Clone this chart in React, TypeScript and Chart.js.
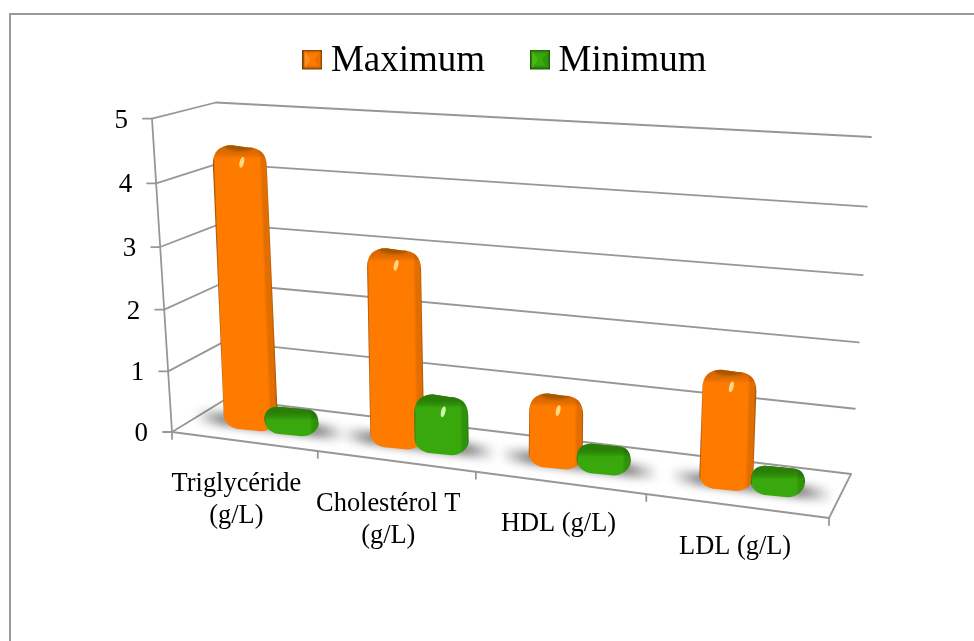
import React, { useEffect, useRef } from "react";
import { Chart, registerables } from "chart.js";

Chart.register(...registerables);

// Chart values
const categories: (string | string[])[] = [
  ["Triglycéride", "(g/L)"],
  ["Cholestérol T", "(g/L)"],
  "HDL (g/L)",
  "LDL (g/L)",
];
const maximumValues = [4.35, 2.9, 0.89, 1.52];
const minimumValues = [0.18, 0.67, 0.2, 0.19];
const yTickStep = 1;
const yMax = 5;

const FONT = "'Liberation Serif', 'Times New Roman', serif";
const LINE = "#979797";

type Pt = { x: number; y: number };
type Palette = {
  base: string;
  band: string;
  edge: string;
  cap: string;
  glow: string;
  topShade: string;
  iconLight: string;
  iconDark: string;
  iconBorder: string;
};

const ORANGE: Palette = {
  base: "#FF7B00",
  band: "#E26D00",
  edge: "#A5560A",
  cap: "#A85600",
  glow: "rgba(255,222,140,0.95)",
  topShade: "rgba(170,85,0,0.4)",
  iconLight: "#FF9020",
  iconDark: "#EA7000",
  iconBorder: "#7A3C00",
};
const GREEN: Palette = {
  base: "#38A80C",
  band: "#2F930A",
  edge: "#246E08",
  cap: "#2C7E08",
  glow: "rgba(215,255,175,0.95)",
  topShade: "rgba(30,100,5,0.6)",
  iconLight: "#46BC14",
  iconDark: "#30960A",
  iconBorder: "#1D5A05",
};

// Corners of the 3D box: back wall, front plane (z = 0 front, 1 back)
const backBottomLeft: Pt = { x: 226, y: 399 };
const backBottomRight: Pt = { x: 851, y: 474 };
const backTopLeft: Pt = { x: 216, y: 102.5 };
const backTopRight: Pt = { x: 871, y: 137 };
const frontBottomLeft: Pt = { x: 172, y: 432 };
const frontBottomRight: Pt = { x: 829, y: 518 };
const frontTopLeft: Pt = { x: 152, y: 118.7 };
const frontTopRight: Pt = { x: 841, y: 143 };

const BAR_DEPTH = 0.5;
const BAR_SHIFT = 2.5;

const mix = (a: Pt, b: Pt, k: number): Pt => ({
  x: a.x + (b.x - a.x) * k,
  y: a.y + (b.y - a.y) * k,
});

// Perspective foreshortening along the width and the height of the box
const warpX = (t: number) => t - 0.15 * t * (1 - t);
const warpY = (t: number) => t - 0.04 * t * (1 - t);

function project(t: number, v: number, z: number): Pt {
  const u = warpX(t);
  const w = warpY(v);
  const back = mix(mix(backBottomLeft, backBottomRight, u), mix(backTopLeft, backTopRight, u), w);
  const front = mix(mix(frontBottomLeft, frontBottomRight, u), mix(frontTopLeft, frontTopRight, u), w);
  return mix(front, back, z);
}

function segment(ctx: CanvasRenderingContext2D, a: Pt, b: Pt) {
  ctx.beginPath();
  ctx.moveTo(a.x, a.y);
  ctx.lineTo(b.x, b.y);
  ctx.stroke();
}

// Bevelled legend swatch; the extra canvas rows lift it to the text's optical centre
function makeIcon(p: Palette): HTMLCanvasElement {
  const c = document.createElement("canvas");
  c.width = 20;
  c.height = 24;
  const g = c.getContext("2d")!;
  g.fillStyle = p.base;
  g.fillRect(0, 0, 20, 20);
  const tri = (pts: number[][], col: string) => {
    g.fillStyle = col;
    g.beginPath();
    pts.forEach(([x, y], i) => (i ? g.lineTo(x, y) : g.moveTo(x, y)));
    g.closePath();
    g.fill();
  };
  tri([[1, 1], [19, 1], [10, 10]], p.iconDark);
  tri([[1, 19], [19, 19], [10, 10]], p.iconDark);
  tri([[1, 1], [1, 19], [10, 10]], p.iconLight);
  tri([[19, 1], [19, 19], [10, 10]], p.iconDark);
  g.fillStyle = p.base;
  g.beginPath();
  g.moveTo(4, 4);
  g.lineTo(16, 4);
  g.lineTo(12, 10);
  g.lineTo(16, 16);
  g.lineTo(4, 16);
  g.lineTo(8, 10);
  g.closePath();
  g.fill();
  g.strokeStyle = p.iconBorder;
  g.lineWidth = 1.5;
  g.strokeRect(0.75, 0.75, 18.5, 18.5);
  return c;
}

// Rounded column seen from slightly above: body, side shading, lid and gloss
function drawColumn(
  ctx: CanvasRenderingContext2D,
  top: Pt,
  bottom: Pt,
  halfWidth: number,
  slope: number,
  p: Palette
) {
  const capLift = 8;
  const footDrop = 8.5;
  const tY = top.y - capLift;
  const bY = bottom.y + footDrop;
  const height = bY - tY;
  const rT = Math.min(19, height * 0.48);
  const rB = Math.min(14, height * 0.48);
  const rBx = halfWidth * 0.62;
  const tiltT = halfWidth * slope * 0.35;
  const tiltB = halfWidth * slope * 0.3;
  const xlT = top.x - halfWidth;
  const xrT = top.x + halfWidth;
  const xlB = bottom.x - halfWidth;
  const xrB = bottom.x + halfWidth;
  const ylT = tY - tiltT;
  const yrT = tY + tiltT;
  const ylB = bY - tiltB;
  const yrB = bY + tiltB;

  ctx.save();
  ctx.beginPath();
  ctx.moveTo(xlT, ylT + rT);
  ctx.bezierCurveTo(xlT, ylT + rT * 0.35, xlT + rT * 0.35, ylT, xlT + rT, ylT);
  ctx.lineTo(xrT - rT, yrT);
  ctx.bezierCurveTo(xrT - rT * 0.35, yrT, xrT, yrT + rT * 0.35, xrT, yrT + rT);
  ctx.lineTo(xrB, yrB - rB);
  ctx.bezierCurveTo(xrB, yrB - rB * 0.4, xrB - rBx * 0.55, yrB, xrB - rBx, yrB);
  ctx.lineTo(xlB + rBx, ylB);
  ctx.bezierCurveTo(xlB + rBx * 0.55, ylB, xlB, ylB - rB * 0.4, xlB, ylB - rB);
  ctx.closePath();
  ctx.clip();

  // Side shading runs across the column, square to its leaning axis
  const ax = top.x - bottom.x;
  const ay = tY - bY;
  const len = Math.hypot(ax, ay) || 1;
  const nx = Math.abs(ay / len);
  const ny = ax / len;
  const midX = (top.x + bottom.x) / 2;
  const midY = (tY + bY) / 2;
  const grad = ctx.createLinearGradient(
    midX - nx * halfWidth,
    midY - ny * halfWidth,
    midX + nx * halfWidth,
    midY + ny * halfWidth
  );
  grad.addColorStop(0, p.edge);
  grad.addColorStop(0.025, p.base);
  grad.addColorStop(0.84, p.base);
  grad.addColorStop(0.9, p.band);
  grad.addColorStop(0.97, p.band);
  grad.addColorStop(1, p.edge);
  ctx.fillStyle = grad;
  ctx.fillRect(Math.min(xlT, xlB) - 4, tY - 12, Math.abs(xrT - xlB) + halfWidth * 2 + 8, height + 24);

  // Bevel shade at the top edge
  const shade = ctx.createLinearGradient(0, tY, 0, tY + 12);
  shade.addColorStop(0, p.topShade);
  shade.addColorStop(1, "rgba(0,0,0,0)");
  ctx.fillStyle = shade;
  ctx.fillRect(xlT - 4, tY - 12, halfWidth * 2 + 8, 30);

  // Lid of the column
  ctx.save();
  ctx.filter = "blur(1px)";
  ctx.fillStyle = p.cap;
  ctx.beginPath();
  ctx.ellipse(top.x - 1, tY, halfWidth * 0.55, 4.5, Math.atan(slope) * 0.35, 0, Math.PI * 2);
  ctx.fill();
  ctx.restore();

  // Gloss spot on the taller columns
  if (height > 50) {
    ctx.save();
    ctx.filter = "blur(0.7px)";
    ctx.fillStyle = p.glow;
    ctx.beginPath();
    ctx.ellipse(top.x + 2, tY + 16, 2.2, 5.5, 0.25, 0, Math.PI * 2);
    ctx.fill();
    ctx.restore();
  }
  ctx.restore();
}

const box3dPlugin = {
  id: "box3d",
  beforeDraw(chart: any) {
    const { ctx, canvas } = chart;
    // Outer chart frame
    ctx.save();
    ctx.strokeStyle = "#9a9a9a";
    ctx.lineWidth = 2;
    ctx.beginPath();
    ctx.moveTo(10, canvas.height);
    ctx.lineTo(10, 14);
    ctx.lineTo(canvas.width, 14);
    ctx.stroke();
    ctx.restore();
  },
  beforeDatasetsDraw(chart: any) {
    const { ctx, chartArea: area, scales } = chart;
    const yScale = scales.y;
    const xScale = scales.x;
    const toV = (py: number) => (area.bottom - py) / area.height;
    const toT = (px: number) => (px - area.left) / area.width;

    ctx.save();
    ctx.lineCap = "round";
    ctx.strokeStyle = LINE;
    ctx.lineWidth = 1.8;

    // Horizontal grid on the side and back walls, value axis and its ticks
    yScale.ticks.forEach((tick: any) => {
      const v = toV(yScale.getPixelForValue(tick.value));
      const a = project(0, v, 0);
      const b = project(0, v, 1);
      const c = project(1, v, 1);
      segment(ctx, a, b);
      segment(ctx, b, c);
      segment(ctx, { x: a.x - 9, y: a.y }, a);
      ctx.save();
      ctx.fillStyle = "#000";
      ctx.font = `27px ${FONT}`;
      ctx.textAlign = "right";
      ctx.textBaseline = "middle";
      ctx.fillText(tick.label, a.x - 24, a.y + 2);
      ctx.restore();
    });
    segment(ctx, project(0, 0, 0), project(0, 1, 0));

    // Floor outline and category ticks
    segment(ctx, project(0, 0, 0), project(1, 0, 0));
    segment(ctx, project(1, 0, 0), project(1, 0, 1));
    const nCats = xScale.getLabels().length;
    for (let i = 0; i <= nCats; i++) {
      const p = project(i / nCats, 0, 0);
      segment(ctx, p, { x: p.x, y: p.y + 7 });
    }

    // Category labels below the front edge
    ctx.fillStyle = "#000";
    ctx.font = `26.4px ${FONT}`;
    ctx.textAlign = "center";
    ctx.textBaseline = "middle";
    xScale.getLabels().forEach((label: string | string[], i: number) => {
      const lines = Array.isArray(label) ? label : [label];
      const p = project(toT(xScale.getPixelForTick(i)), 0, 0);
      const multi = lines.length > 1;
      lines.forEach((line, k) => {
        ctx.fillText(line, p.x + (multi ? -7 : -1), p.y + (multi ? 43 : 41.5) + k * 31.5);
      });
    });

    // Columns, placed from the bar elements the chart computed
    const metas = chart.getSortedVisibleDatasetMetas();
    const palettes = [ORANGE, GREEN];
    const planeL = project(0, 0, BAR_DEPTH);
    const planeR = project(1, 0, BAR_DEPTH);
    const planeSpan = planeR.x - planeL.x;
    const slope = (planeR.y - planeL.y) / planeSpan;

    // Soft floor shadows, one per category group
    for (let i = 0; i < nCats; i++) {
      const first = metas[0].data[i];
      const last = metas[metas.length - 1].data[i];
      const hw = ((first.width / area.width) * planeSpan) / 2;
      const l = project(toT(first.x), 0, BAR_DEPTH);
      const r = project(toT(last.x), 0, BAR_DEPTH);
      const x0 = l.x - hw - 26;
      const x1 = r.x + hw + 30;
      const y0 = l.y - (l.x - x0) * slope;
      const y1 = r.y + (x1 - r.x) * slope;
      const fade = ctx.createLinearGradient(x0, 0, x1, 0);
      fade.addColorStop(0, "rgba(0,0,0,0)");
      fade.addColorStop(0.18, "rgba(0,0,0,0.46)");
      fade.addColorStop(0.82, "rgba(0,0,0,0.46)");
      fade.addColorStop(1, "rgba(0,0,0,0)");
      ctx.save();
      ctx.filter = "blur(4px)";
      ctx.fillStyle = fade;
      ctx.beginPath();
      ctx.moveTo(x0, y0 - 6);
      ctx.lineTo(x1, y1 - 6);
      ctx.lineTo(x1, y1 + 7);
      ctx.lineTo(x0, y0 + 7);
      ctx.closePath();
      ctx.fill();
      ctx.restore();
    }

    metas.forEach((meta: any, ds: number) => {
      meta.data.forEach((bar: any) => {
        const t = toT(bar.x);
        const top = project(t, toV(bar.y), BAR_DEPTH);
        const bottom = project(t, toV(bar.base), BAR_DEPTH);
        top.x += BAR_SHIFT;
        bottom.x += BAR_SHIFT;
        const hw = ((bar.width / area.width) * planeSpan) / 2;
        drawColumn(ctx, top, bottom, hw, slope, palettes[ds]);
      });
    });
    ctx.restore();
    return false;
  },
};

export default function App() {
  const ref = useRef<HTMLCanvasElement>(null);

  useEffect(() => {
    const icons = [makeIcon(ORANGE), makeIcon(GREEN)];
    const chart = new Chart(ref.current!, {
      type: "bar",
      data: {
        labels: categories,
        datasets: [
          { label: "Maximum", data: maximumValues, backgroundColor: ORANGE.base },
          { label: "Minimum", data: minimumValues, backgroundColor: GREEN.base },
        ],
      },
      options: {
        responsive: false,
        animation: false,
        events: [],
        layout: { padding: { top: -12, left: 45, right: 0, bottom: 0 } },
        datasets: { bar: { categoryPercentage: 0.576, barPercentage: 1.17 } },
        scales: {
          x: { display: false },
          y: { display: false, min: 0, max: yMax, ticks: { stepSize: yTickStep } },
        },
        plugins: {
          tooltip: { enabled: false },
          legend: {
            position: "top",
            labels: {
              usePointStyle: true,
              boxWidth: 0.01,
              padding: 55,
              color: "#000",
              font: { family: FONT, size: 37 },
              generateLabels(c: any) {
                return Chart.defaults.plugins.legend.labels
                  .generateLabels(c)
                  .map((item: any, i: number) => ({ ...item, pointStyle: icons[i] }));
              },
            },
          },
        },
      },
      plugins: [box3dPlugin],
    } as any);
    return () => chart.destroy();
  }, []);

  return (
    <div style={{ position: "fixed", left: 0, top: 0, width: 974, height: 641, background: "#fff" }}>
      <canvas ref={ref} width={974} height={641} style={{ display: "block" }} />
    </div>
  );
}
